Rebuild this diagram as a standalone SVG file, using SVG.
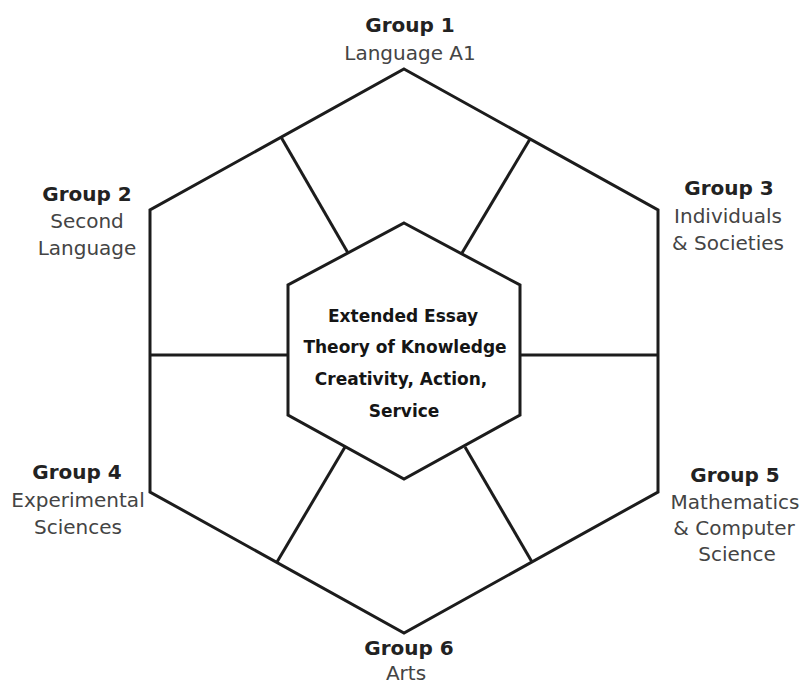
<svg xmlns="http://www.w3.org/2000/svg" width="802" height="684" viewBox="0 0 802 684">
<style>
.shape{fill:none;stroke:#1c1c1c;stroke-width:3;stroke-linejoin:miter}
.spoke{stroke:#1c1c1c;stroke-width:3;stroke-linecap:butt}
.t{font-family:"DejaVu Sans",Verdana,sans-serif;font-size:20px;text-anchor:middle}
.h{font-weight:bold;fill:#222}
.s{fill:#444}
.c{font-family:"DejaVu Sans",Verdana,sans-serif;font-size:17px;font-weight:bold;fill:#151515;text-anchor:middle}
</style>
<rect width="802" height="684" fill="#ffffff"/>
<g id="outer-hexagon">
<polygon class="shape" points="404,69 658,210 658,492 404,633 150,492 150,210"/>
</g>
<g id="connectors">
<line class="spoke" x1="281" y1="137" x2="348" y2="253"/>
<line class="spoke" x1="530" y1="139" x2="462" y2="253"/>
<line class="spoke" x1="150" y1="355" x2="288" y2="355"/>
<line class="spoke" x1="520" y1="355" x2="658" y2="355"/>
<line class="spoke" x1="277" y1="562" x2="345" y2="447"/>
<line class="spoke" x1="532" y1="562" x2="465" y2="447"/>
</g>
<g id="core">
<polygon class="shape" fill="#ffffff" points="404,223 520,285 520,415 404,479 288,415 288,285"/>
<text class="c" x="403" y="322">Extended Essay</text>
<text class="c" x="405" y="353">Theory of Knowledge</text>
<text class="c" x="401" y="385">Creativity, Action,</text>
<text class="c" x="404" y="417">Service</text>
</g>
<g id="group1">
<text class="t h" x="410" y="32">Group 1</text>
<text class="t s" x="410" y="60">Language A1</text>
</g>
<g id="group2">
<text class="t h" x="87" y="201">Group 2</text>
<text class="t s" x="87" y="228">Second</text>
<text class="t s" x="87" y="255">Language</text>
</g>
<g id="group3">
<text class="t h" x="729" y="195">Group 3</text>
<text class="t s" x="728" y="223">Individuals</text>
<text class="t s" x="728" y="250">&amp; Societies</text>
</g>
<g id="group4">
<text class="t h" x="77" y="479">Group 4</text>
<text class="t s" x="78" y="507">Experimental</text>
<text class="t s" x="78" y="534">Sciences</text>
</g>
<g id="group5">
<text class="t h" x="735" y="482">Group 5</text>
<text class="t s" x="735" y="509">Mathematics</text>
<text class="t s" x="734" y="535">&amp; Computer</text>
<text class="t s" x="737" y="561">Science</text>
</g>
<g id="group6">
<text class="t h" x="409" y="655">Group 6</text>
<text class="t s" x="406" y="680">Arts</text>
</g>
</svg>
